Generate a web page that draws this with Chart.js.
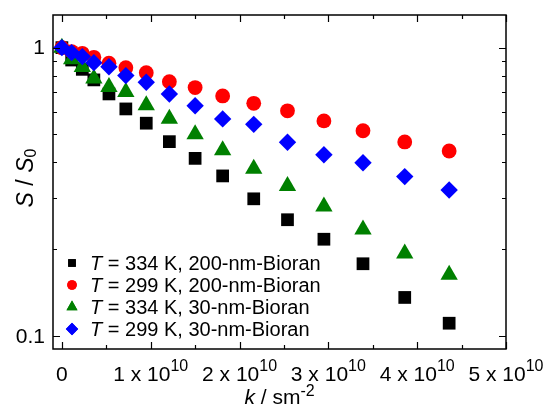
<!DOCTYPE html>
<html>
<head>
<meta charset="utf-8">
<script src="https://cdn.jsdelivr.net/npm/chart.js@4/dist/chart.umd.min.js"></script>
<style>
  html, body { margin: 0; padding: 0; background: #fff; }
  #wrap { width: 550px; height: 417px; }
</style>
</head>
<body>
<div id="wrap"><canvas id="chart" width="550" height="417"></canvas></div>
<script>
// wave vector k (m^-2), same for all four runs
var kValues = [0, 0.11e10, 0.23e10, 0.36e10, 0.53e10, 0.72e10, 0.95e10, 1.21e10, 1.50e10, 1.81e10, 2.16e10, 2.54e10, 2.95e10, 3.39e10, 3.86e10, 4.36e10];

// normalised signal S / S0
var s334K200nm = [1, 0.906, 0.841, 0.773, 0.691, 0.613, 0.547, 0.472, 0.413, 0.359, 0.299, 0.253, 0.2165, 0.178, 0.136, 0.1107];
var s299K200nm = [1, 0.969, 0.956, 0.926, 0.883, 0.852, 0.819, 0.762, 0.727, 0.680, 0.641, 0.604, 0.557, 0.515, 0.471, 0.438];
var s334K30nm = [1, 0.912, 0.857, 0.781, 0.731, 0.702, 0.631, 0.567, 0.501, 0.441, 0.380, 0.331, 0.281, 0.234, 0.193, 0.163];
var s299K30nm = [1, 0.961, 0.931, 0.887, 0.859, 0.800, 0.759, 0.691, 0.629, 0.566, 0.542, 0.470, 0.425, 0.399, 0.357, 0.321];

var seriesLabels = ['= 334 K, 200-nm-Bioran', '= 299 K, 200-nm-Bioran', '= 334 K, 30-nm-Bioran', '= 299 K, 30-nm-Bioran'];

// axis ticks
var xMajorTicks = [0, 1e10, 2e10, 3e10, 4e10, 5e10];
var xMinorTicks = [0.5e10, 1.5e10, 2.5e10, 3.5e10, 4.5e10];
var yMajorTicks = [0.1, 1];
var yMinorTicks = [0.2, 0.3, 0.4, 0.5, 0.6, 0.7, 0.8, 0.9];

var FONT = '"Liberation Sans", Arial, sans-serif';

function toPoints(ys) {
	var pts = [];
	for (var i = 0; i < ys.length; i++) {
		pts.push({ x: kValues[i], y: ys[i] });
	}
	return pts;
}

var styles = [
	{ color: '#000000', pointStyle: 'rect', radius: 9, legendRadius: 5.4 },
	{ color: '#ff0000', pointStyle: 'circle', radius: 7.4, legendRadius: 4.8 },
	{ color: '#008000', pointStyle: 'triangle', radius: 10, legendRadius: 6.4 },
	{ color: '#0000ff', pointStyle: 'rectRot', radius: 8.7, legendRadius: 6.2 }
];
var seriesData = [s334K200nm, s299K200nm, s334K30nm, s299K30nm];

var datasets = [];
for (var i = 0; i < seriesData.length; i++) {
	datasets.push({
		label: 'T ' + seriesLabels[i],
		data: toPoints(seriesData[i]),
		pointStyle: styles[i].pointStyle,
		pointRadius: styles[i].radius,
		pointHoverRadius: styles[i].radius,
		pointBackgroundColor: styles[i].color,
		pointBorderWidth: 0,
		showLine: false,
		order: seriesData.length - i // later series sit on top
	});
}

/**
 * Draws text made of pieces with their own font and baseline shift
 */
function drawPieces(ctx, pieces, x, y, align) {
	var total = 0, i;
	for (i = 0; i < pieces.length; i++) {
		ctx.font = pieces[i].font;
		pieces[i].w = ctx.measureText(pieces[i].t).width;
		total += pieces[i].w;
	}
	var cx = align == 'center' ? x - total / 2 : x;
	ctx.textAlign = 'left';
	for (i = 0; i < pieces.length; i++) {
		ctx.font = pieces[i].font;
		ctx.fillText(pieces[i].t, cx, y + (pieces[i].dy || 0));
		cx += pieces[i].w;
	}
}

function fallbackPoint(ctx, style, r, x, y) {
	ctx.beginPath();
	if (style == 'circle') {
		ctx.arc(x, y, r, 0, Math.PI * 2);
	} else if (style == 'rect') {
		var s = r * Math.SQRT1_2;
		ctx.rect(x - s, y - s, 2 * s, 2 * s);
	} else if (style == 'triangle') {
		ctx.moveTo(x, y - r);
		ctx.lineTo(x + r * 0.866, y + r / 2);
		ctx.lineTo(x - r * 0.866, y + r / 2);
		ctx.closePath();
	} else {
		ctx.moveTo(x, y - r); ctx.lineTo(x + r, y); ctx.lineTo(x, y + r); ctx.lineTo(x - r, y); ctx.closePath();
	}
	ctx.fill();
}

// frame, inward ticks, tick labels, titles and legend in the style of the original plot
var framePlugin = {
	id: 'frame',
	afterDraw: function(chart) {
		var ctx = chart.ctx;
		var area = chart.chartArea;
		var xs = chart.scales.x, ys = chart.scales.y;
		var i, p;
		ctx.save();
		ctx.strokeStyle = '#000';
		ctx.fillStyle = '#000';
		ctx.lineWidth = 1.5;
		ctx.strokeRect(area.left, area.top, area.right - area.left, area.bottom - area.top);

		ctx.lineWidth = 1.2;
		ctx.beginPath();
		var ticksX = [[xMajorTicks, 7], [xMinorTicks, 4]];
		ticksX.forEach(function(set) {
			set[0].forEach(function(v) {
				p = Math.round(xs.getPixelForValue(v)) + 0.5;
				ctx.moveTo(p, area.bottom); ctx.lineTo(p, area.bottom - set[1]);
				ctx.moveTo(p, area.top); ctx.lineTo(p, area.top + set[1]);
			});
		});
		var ticksY = [[yMajorTicks, 7], [yMinorTicks, 4]];
		ticksY.forEach(function(set) {
			set[0].forEach(function(v) {
				p = Math.round(ys.getPixelForValue(v)) + 0.5;
				ctx.moveTo(area.left, p); ctx.lineTo(area.left + set[1], p);
				ctx.moveTo(area.right, p); ctx.lineTo(area.right - set[1], p);
			});
		});
		ctx.stroke();

		// x tick labels, "n x 10^10"
		ctx.textBaseline = 'alphabetic';
		xMajorTicks.forEach(function(v) {
			var px = xs.getPixelForValue(v);
			if (v === 0) {
				drawPieces(ctx, [{ t: '0', font: '21px ' + FONT }], px, 381, 'center');
			} else {
				drawPieces(ctx, [
					{ t: Math.round(v / 1e10) + ' x 10', font: '21px ' + FONT },
					{ t: '10', font: '16px ' + FONT, dy: -10 }
				], px, 381, 'center');
			}
		});

		// y tick labels
		ctx.textBaseline = 'middle';
		ctx.textAlign = 'right';
		ctx.font = '21px ' + FONT;
		yMajorTicks.forEach(function(v) {
			ctx.fillText(String(v), 45, ys.getPixelForValue(v) + 1);
		});

		// axis titles
		ctx.textBaseline = 'alphabetic';
		drawPieces(ctx, [
			{ t: 'k', font: 'italic 21px ' + FONT },
			{ t: ' / sm', font: '21px ' + FONT },
			{ t: '-2', font: '16px ' + FONT, dy: -8 }
		], (area.left + area.right) / 2, 404, 'center');

		ctx.save();
		ctx.translate(33, (area.top + area.bottom) / 2 - 4);
		ctx.rotate(-Math.PI / 2);
		drawPieces(ctx, [
			{ t: 'S', font: 'italic 23px ' + FONT },
			{ t: ' / ', font: '23px ' + FONT },
			{ t: 'S', font: 'italic 23px ' + FONT },
			{ t: '0', font: '16px ' + FONT, dy: 3 }
		], 0, 0, 'center');
		ctx.restore();

		// legend
		var rowY = [263, 285, 307, 329];
		for (i = 0; i < styles.length; i++) {
			ctx.fillStyle = styles[i].color;
			if (Chart.helpers && Chart.helpers.drawPoint) {
				Chart.helpers.drawPoint(ctx, { pointStyle: styles[i].pointStyle, radius: styles[i].legendRadius, rotation: 0, borderWidth: 0 }, 72, rowY[i]);
				ctx.fill();
			} else {
				fallbackPoint(ctx, styles[i].pointStyle, styles[i].legendRadius, 72, rowY[i]);
			}
			ctx.fillStyle = '#000';
			ctx.textBaseline = 'middle';
			drawPieces(ctx, [
				{ t: 'T', font: 'italic 20px ' + FONT },
				{ t: ' ' + seriesLabels[i], font: '20px ' + FONT }
			], 90, rowY[i] + 1, 'left');
		}
		ctx.restore();
	}
};

var chart = new Chart(document.getElementById('chart').getContext('2d'), {
	type: 'scatter',
	data: { datasets: datasets },
	options: {
		responsive: false,
		animation: false,
		devicePixelRatio: 1,
		layout: { padding: { left: 53, right: 44, top: 15, bottom: 68 } },
		plugins: {
			legend: { display: false },
			tooltip: { enabled: false }
		},
		scales: {
			x: { type: 'linear', min: -0.1e10, max: 5e10, display: false },
			y: { type: 'logarithmic', min: 0.0901, max: 1.298, display: false }
		}
	},
	plugins: [framePlugin]
});
</script>
</body>
</html>
